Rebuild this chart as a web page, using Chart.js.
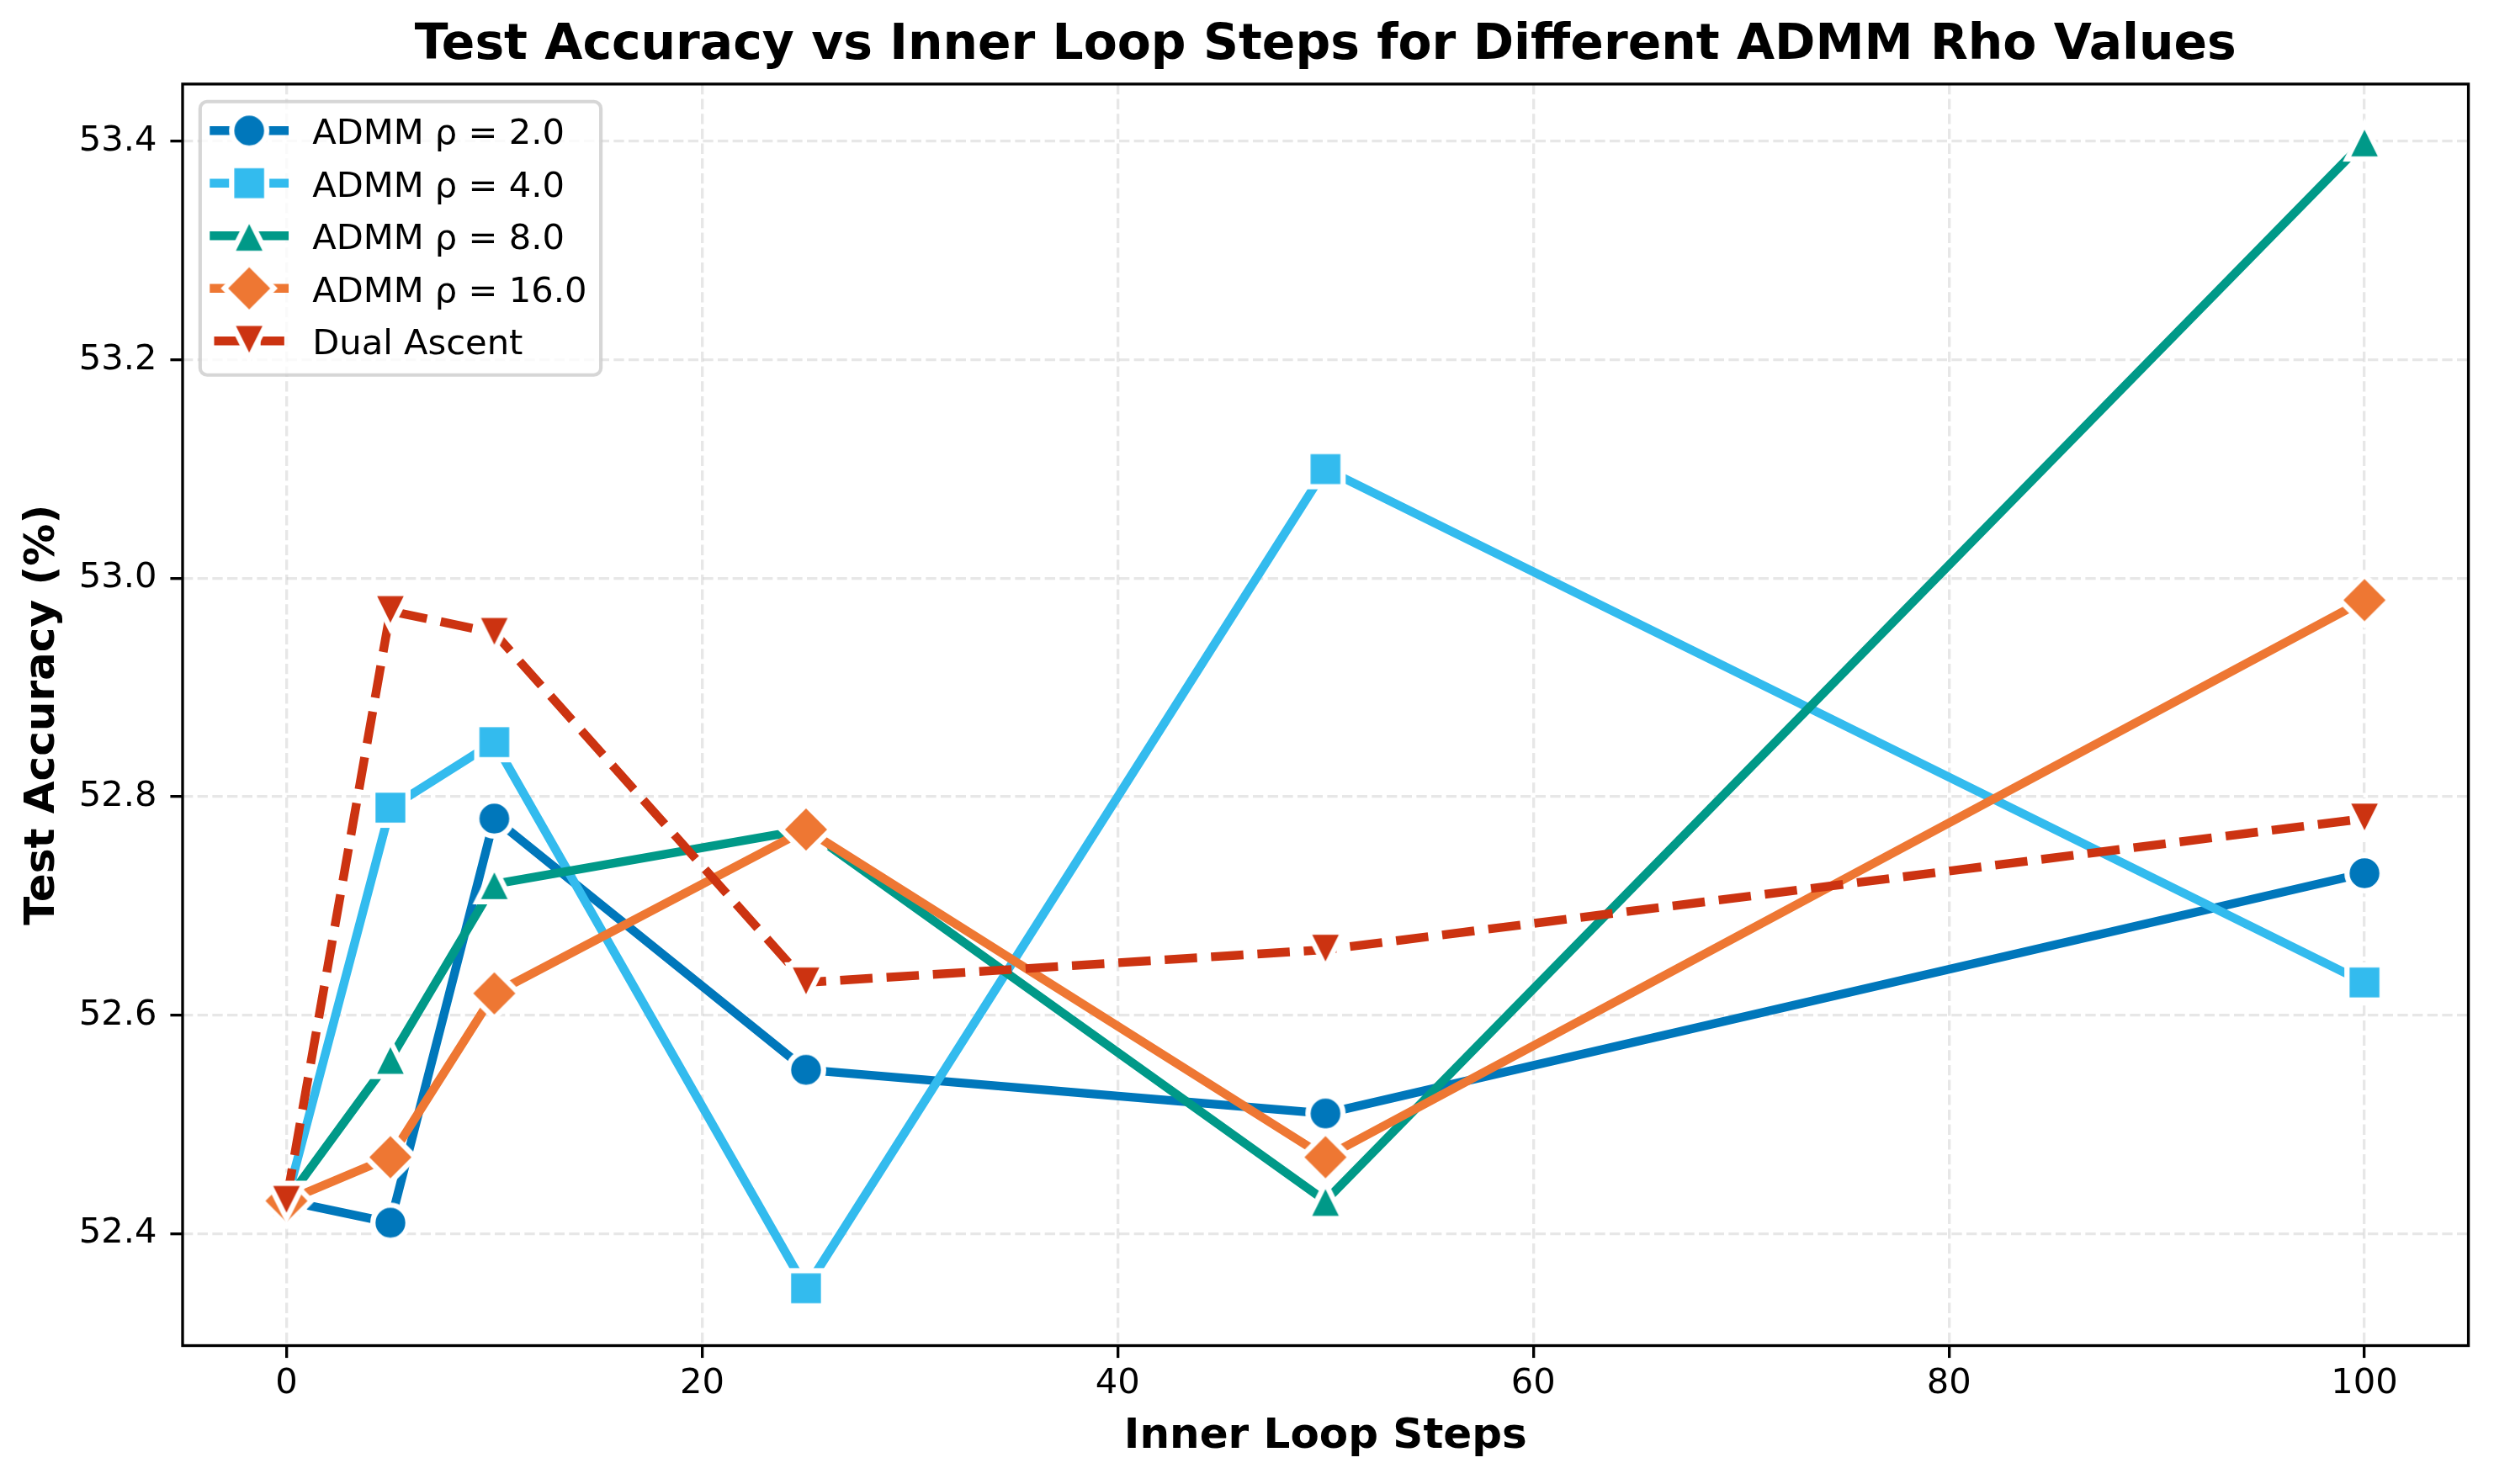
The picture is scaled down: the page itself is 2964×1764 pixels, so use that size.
<!DOCTYPE html>
<html><head><meta charset="utf-8">
<script src="https://cdn.jsdelivr.net/npm/chart.js@4"></script>
<style>html,body{margin:0;padding:0;background:#fff;}canvas{display:block;}</style>
</head><body>
<canvas id="c" width="2964" height="1764" style="width:2964px;height:1764px"></canvas>
<script>
// ---- data ----
const innerSteps = [0, 5, 10, 25, 50, 100];
const admmRho2  = [52.43, 52.41, 52.78, 52.55, 52.51, 52.73];
const admmRho4  = [52.43, 52.79, 52.85, 52.35, 53.10, 52.63];
const admmRho8  = [52.43, 52.56, 52.72, 52.77, 52.43, 53.40];
const admmRho16 = [52.43, 52.47, 52.62, 52.77, 52.47, 52.98];
const dualAscent = [52.43, 52.97, 52.95, 52.63, 52.66, 52.78];
const seriesLabels = ['ADMM ρ = 2.0', 'ADMM ρ = 4.0', 'ADMM ρ = 8.0', 'ADMM ρ = 16.0', 'Dual Ascent'];
const xTicks = [0, 20, 40, 60, 80, 100];
const yTicks = [52.4, 52.6, 52.8, 53.0, 53.2, 53.4];

// ---- styles ----
const PT = 300 / 72;
const LW = 2.5 * PT, MS = 10 * PT, MEW = 1.5 * PT;
const FAMILY = '"DejaVu Sans"';
const colors = ['#0077BB', '#33BBEE', '#009988', '#EE7733', '#CC3311'];
const shapes = ['o', 's', '^', 'D', 'v'];
const dashed = [false, false, false, false, true];
const DASH = [3.7 * LW, 1.6 * LW];
const GRID = 'rgba(176,176,176,0.3)';

function makeMarker(shape, color) {
  const S = 80, c = document.createElement('canvas');
  c.width = S; c.height = S;
  const g = c.getContext('2d');
  const h = MS / 2;
  g.translate(S / 2, S / 2);
  g.beginPath();
  if (shape === 'o') g.arc(0, 0, h, 0, 2 * Math.PI);
  else if (shape === 's') g.rect(-h, -h, 2 * h, 2 * h);
  else if (shape === '^') { g.moveTo(0, -h); g.lineTo(-h, h); g.lineTo(h, h); g.closePath(); }
  else if (shape === 'v') { g.moveTo(0, h); g.lineTo(-h, -h); g.lineTo(h, -h); g.closePath(); }
  else if (shape === 'D') { const d = h * Math.SQRT2; g.moveTo(0, -d); g.lineTo(d, 0); g.lineTo(0, d); g.lineTo(-d, 0); g.closePath(); }
  g.fillStyle = color; g.fill();
  g.lineWidth = MEW; g.lineJoin = 'miter'; g.strokeStyle = '#ffffff'; g.stroke();
  return c;
}
const markers = shapes.map((s, i) => makeMarker(s, colors[i]));

const allSeries = [admmRho2, admmRho4, admmRho8, admmRho16, dualAscent];
const allVals = allSeries.flat();
const yLo = Math.min(...allVals), yHi = Math.max(...allVals);
const yMin = yLo - 0.05 * (yHi - yLo), yMax = yHi + 0.05 * (yHi - yLo);
const xMin = innerSteps[0] - 0.05 * (innerSteps[innerSteps.length - 1] - innerSteps[0]);
const xMax = innerSteps[innerSteps.length - 1] + 0.05 * (innerSteps[innerSteps.length - 1] - innerSteps[0]);

const datasets = allSeries.map((vals, i) => ({
  label: seriesLabels[i],
  data: innerSteps.map((x, j) => ({ x: x, y: vals[j] })),
  borderColor: colors[i],
  backgroundColor: colors[i],
  borderWidth: LW,
  borderDash: dashed[i] ? DASH : [],
  borderCapStyle: dashed[i] ? 'butt' : 'square',
  borderJoinStyle: 'round',
  pointStyle: markers[i],
  pointRadius: 20,
  pointHoverRadius: 20,
  tension: 0,
  fill: false,
  order: allSeries.length - i
}));

const framePlugin = {
  id: 'frameLegend',
  afterDatasetsDraw(chart) {
    const ctx = chart.ctx, ca = chart.chartArea;
    ctx.save();
    ctx.lineWidth = 0.8 * PT;
    ctx.strokeStyle = '#000';
    ctx.lineJoin = 'miter';
    ctx.strokeRect(ca.left, ca.top, ca.right - ca.left, ca.bottom - ca.top);
    ctx.restore();
  },
  afterDraw(chart) {
    const ctx = chart.ctx, ca = chart.chartArea;
    const FS = 10 * PT;
    const bx = ca.left + 0.5 * FS, by = ca.top + 0.5 * FS;
    const bp = 0.4 * FS, hl = 2 * FS, htp = 0.8 * FS;
    ctx.save();
    ctx.font = FS + 'px ' + FAMILY;
    let maxW = 0;
    chart.data.datasets.forEach(d => { maxW = Math.max(maxW, ctx.measureText(d.label).width); });
    const n = chart.data.datasets.length;
    const rowH = 1.5 * FS;
    const bw = bp + hl + htp + maxW + bp;
    const bh = 2 * bp + n * FS + (n - 1) * 0.5 * FS;
    ctx.beginPath();
    ctx.roundRect(bx, by, bw, bh, 0.2 * FS);
    ctx.fillStyle = 'rgba(255,255,255,0.8)';
    ctx.fill();
    ctx.lineWidth = 1.0 * PT;
    ctx.strokeStyle = 'rgba(204,204,204,0.8)';
    ctx.stroke();
    chart.data.datasets.forEach((d, i) => {
      const cy = by + bp + FS / 2 - 3 + i * rowH;
      const x0 = bx + bp, x1 = x0 + hl;
      ctx.save();
      ctx.beginPath();
      ctx.moveTo(x0, cy); ctx.lineTo(x1, cy);
      ctx.lineWidth = d.borderWidth;
      ctx.strokeStyle = d.borderColor;
      ctx.setLineDash(d.borderDash || []);
      ctx.lineCap = d.borderCapStyle;
      ctx.stroke();
      ctx.restore();
      const m = d.pointStyle;
      ctx.drawImage(m, (x0 + x1) / 2 - m.width / 2, cy - m.height / 2);
      ctx.fillStyle = '#000';
      ctx.textBaseline = 'alphabetic';
      ctx.textAlign = 'left';
      ctx.fillText(d.label, x1 + htp, cy + 16);
    });
    ctx.restore();
  }
};

Chart.defaults.font.family = FAMILY;
Chart.defaults.color = '#000';

new Chart(document.getElementById('c'), {
  type: 'line',
  data: { datasets: datasets },
  plugins: [framePlugin],
  options: {
    responsive: false,
    animation: false,
    devicePixelRatio: 1,
    events: [],
    layout: { padding: { left: 0, right: 30, top: 0, bottom: 0 } },
    plugins: {
      legend: { display: false },
      tooltip: { enabled: false },
      title: {
        display: true,
        text: 'Test Accuracy vs Inner Loop Steps for Different ADMM Rho Values',
        font: { size: 14 * PT, weight: 'bold', family: FAMILY, lineHeight: 1.2 },
        color: '#000',
        padding: { top: 20.2, bottom: 9.7 },
        fullSize: false
      }
    },
    scales: {
      x: {
        type: 'linear', min: xMin, max: xMax, bounds: 'data',
        afterBuildTicks: s => { s.ticks = xTicks.map(v => ({ value: v })); },
        afterFit: s => { s.height = 164.5; },
        ticks: { font: { size: 10 * PT }, color: '#000', padding: 6, maxRotation: 0, autoSkip: false, callback: v => String(v) },
        grid: { color: GRID, lineWidth: 0.8 * PT, tickLength: 3.5 * PT, tickWidth: 0.8 * PT, tickColor: '#000' },
        border: { display: false, dash: [3.7 * 0.8 * PT, 1.6 * 0.8 * PT] },
        title: { display: true, text: 'Inner Loop Steps', color: '#000', font: { size: 12 * PT, weight: 'bold', lineHeight: 1.2 }, padding: { top: 0, bottom: 26.3 } }
      },
      y: {
        type: 'linear', min: yMin, max: yMax, bounds: 'data',
        afterBuildTicks: s => { s.ticks = yTicks.map(v => ({ value: v })); },
        afterFit: s => { s.width = 217; },
        ticks: { font: { size: 10 * PT }, color: '#000', padding: 16, autoSkip: false, callback: v => Number(v).toFixed(1) },
        grid: { color: GRID, lineWidth: 0.8 * PT, tickLength: 3.5 * PT, tickWidth: 0.8 * PT, tickColor: '#000' },
        border: { display: false, dash: [3.7 * 0.8 * PT, 1.6 * 0.8 * PT] },
        title: { display: true, text: 'Test Accuracy (%)', color: '#000', font: { size: 12 * PT, weight: 'bold', lineHeight: 1.2 }, padding: { top: 21, bottom: 0 } }
      }
    }
  }
});
</script>
</body></html>
